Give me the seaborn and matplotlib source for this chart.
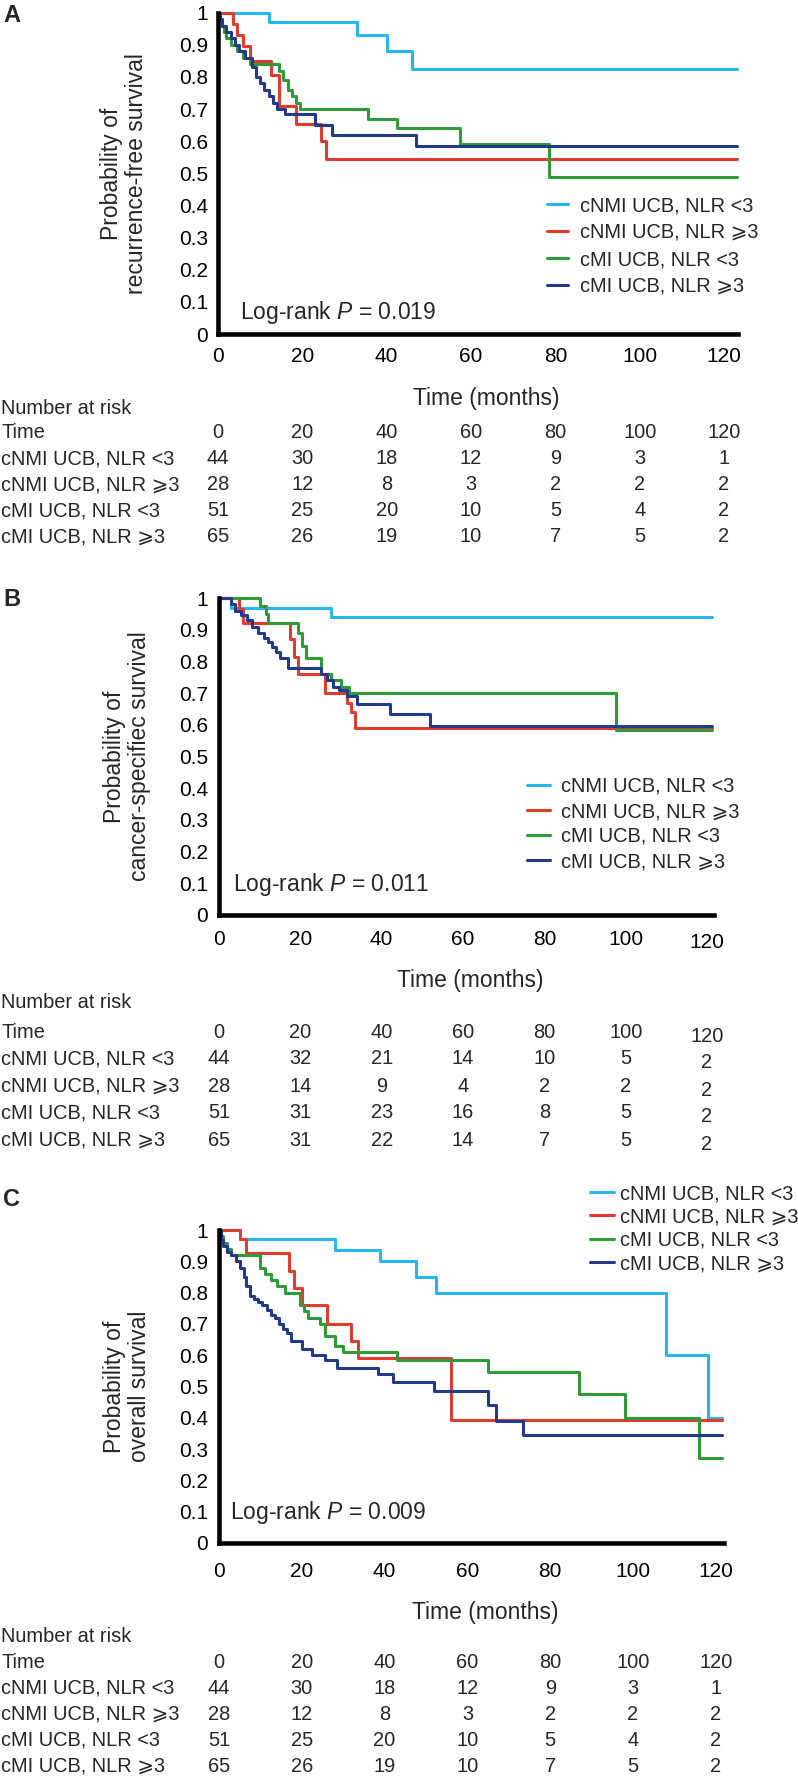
import matplotlib
matplotlib.use('Agg')
import matplotlib.pyplot as plt
import matplotlib.transforms as mtransforms
import pandas as pd
import seaborn as sns

sns.set_style('white')
plt.rcParams['font.family'] = ['Liberation Sans', 'DejaVu Sans']
plt.rcParams['mathtext.fontset'] = 'custom'
plt.rcParams['mathtext.it'] = 'Liberation Sans:italic'
plt.rcParams['mathtext.rm'] = 'Liberation Sans'

groups = ['cNMI UCB, NLR <3', 'cNMI UCB, NLR \u2a7e3', 'cMI UCB, NLR <3', 'cMI UCB, NLR \u2a7e3']
colors = ['#2bb5ee', '#e03b2e', '#2e9b38', '#223a8a']
times = [0, 20, 40, 60, 80, 100, 120]
yticks = [0, 0.1, 0.2, 0.3, 0.4, 0.5, 0.6, 0.7, 0.8, 0.9, 1]
ytick_labels = ['0', '0.1', '0.2', '0.3', '0.4', '0.5', '0.6', '0.7', '0.8', '0.9', '1']

# A: recurrence-free survival
a_cyan_t = [0, 12, 33, 40, 46, 123]
a_cyan_s = [1, 0.97, 0.93, 0.88, 0.826, 0.826]
a_red_t = [0, 3.5, 4.5, 6, 7.5, 12.5, 14.5, 18.5, 24.5, 25.5, 123]
a_red_s = [1, 0.965, 0.93, 0.895, 0.85, 0.805, 0.71, 0.655, 0.60, 0.545, 0.545]
a_green_t = [0, 0.5, 1, 1.5, 2, 3, 4.5, 6, 7.5, 14.5, 15.5, 16.5, 17.5, 18.5, 19.5, 35.5, 42.5, 57.5, 78.5, 123]
a_green_s = [1, 0.98, 0.96, 0.94, 0.92, 0.90, 0.88, 0.86, 0.84, 0.82, 0.79, 0.76, 0.74, 0.72, 0.70, 0.67, 0.64, 0.59, 0.49, 0.49]
a_blue_t = [0, 0.5, 1, 2, 3, 4, 5, 6.5, 8, 9, 10, 11, 12, 13, 14, 16, 23, 27, 47, 123]
a_blue_s = [1, 0.98, 0.96, 0.94, 0.92, 0.90, 0.88, 0.86, 0.83, 0.80, 0.78, 0.76, 0.74, 0.72, 0.70, 0.685, 0.65, 0.62, 0.585, 0.585]

# B: cancer-specific survival
b_cyan_t = [0, 3, 27.5, 121.3]
b_cyan_s = [1, 0.97, 0.94, 0.94]
b_red_t = [0, 5, 6, 17.5, 18.5, 19.5, 26, 31.5, 32.5, 33.5, 121.3]
b_red_s = [1, 0.965, 0.92, 0.87, 0.815, 0.76, 0.70, 0.67, 0.64, 0.59, 0.59]
b_green_t = [0, 10, 11.5, 12, 19.5, 20.5, 21.5, 25, 27.5, 30, 32, 97.5, 121.3]
b_green_s = [1, 0.975, 0.95, 0.92, 0.89, 0.85, 0.81, 0.76, 0.74, 0.72, 0.70, 0.585, 0.585]
b_blue_t = [0, 3, 4, 5.5, 7, 8, 9.5, 11, 12, 13, 14, 15, 17, 25, 26.5, 28, 29.5, 31.5, 34, 42, 52, 121.3]
b_blue_s = [1, 0.98, 0.96, 0.945, 0.93, 0.91, 0.89, 0.875, 0.86, 0.845, 0.83, 0.81, 0.78, 0.76, 0.74, 0.72, 0.71, 0.69, 0.665, 0.635, 0.595, 0.595]

# C: overall survival
c_cyan_t = [0, 5, 28, 39, 47.5, 52.5, 108, 118, 121.5]
c_cyan_s = [1, 0.97, 0.935, 0.90, 0.85, 0.80, 0.60, 0.40, 0.40]
c_red_t = [0, 5, 6.5, 17, 18, 20, 26, 32, 33.5, 56, 121.5]
c_red_s = [1, 0.97, 0.925, 0.87, 0.815, 0.76, 0.70, 0.645, 0.59, 0.393, 0.393]
c_green_t = [0, 0.5, 1, 2, 3, 10, 11, 12.5, 14, 16, 19.5, 20.5, 21.5, 24.5, 25.5, 28, 30, 43, 65, 87, 98, 116, 121.5]
c_green_s = [1, 0.98, 0.96, 0.94, 0.92, 0.88, 0.86, 0.84, 0.82, 0.80, 0.76, 0.74, 0.72, 0.70, 0.66, 0.63, 0.61, 0.585, 0.545, 0.475, 0.40, 0.27, 0.27]
c_blue_t = [0, 0.5, 1, 2, 3, 4, 5, 6, 6.5, 7.5, 8.5, 9.5, 10.5, 11.5, 12.5, 13.5, 14.5, 15.5, 16.5, 17.5, 20, 22.5, 25.5, 28.5, 38.5, 42, 52, 65, 67, 73.5, 121.5]
c_blue_s = [1, 0.97, 0.95, 0.93, 0.92, 0.90, 0.88, 0.85, 0.82, 0.79, 0.78, 0.77, 0.76, 0.745, 0.73, 0.72, 0.70, 0.685, 0.67, 0.645, 0.62, 0.60, 0.585, 0.56, 0.54, 0.515, 0.485, 0.44, 0.39, 0.345, 0.345]

# numbers at risk
a_risk = [[44, 30, 18, 12, 9, 3, 1], [28, 12, 8, 3, 2, 2, 2], [51, 25, 20, 10, 5, 4, 2], [65, 26, 19, 10, 7, 5, 2]]
b_risk = [[44, 32, 21, 14, 10, 5, 2], [28, 14, 9, 4, 2, 2, 2], [51, 31, 23, 16, 8, 5, 2], [65, 31, 22, 14, 7, 5, 2]]
c_risk = [[44, 30, 18, 12, 9, 3, 1], [28, 12, 8, 3, 2, 2, 2], [51, 25, 20, 10, 5, 4, 2], [65, 26, 19, 10, 7, 5, 2]]

W, H = 798, 1778
fig = plt.figure(figsize=(W / 100, H / 100), dpi=100)


def fy(py):
    return 1 - py / H


def draw_panel(letter, curves, risk, ylabel, ptext, lay):
    left, top, bottom, k, xmax = lay['left'], lay['top'], lay['bottom'], lay['k'], lay['xmax']
    width = k * xmax
    ax = fig.add_axes([left / W, fy(bottom), width / W, (bottom - top) / H])

    rows = []
    for g, (t, s) in zip(groups, curves):
        for ti, si in zip(t, s):
            rows.append({'time': ti, 'surv': si, 'group': g})
    df = pd.DataFrame(rows)
    sns.lineplot(data=df, x='time', y='surv', hue='group', hue_order=groups, palette=colors,
                 estimator=None, drawstyle='steps-post', linewidth=2.2, legend=False, ax=ax)
    for ln in ax.lines:
        ln.set_clip_on(False)

    ax.set_xlim(0, xmax)
    ax.set_ylim(0, 1)
    ax.set_xticks(times)
    ax.set_yticks(yticks, ytick_labels)
    ax.tick_params(length=0, labelsize=15, colors='black')
    ax.tick_params(axis='x', pad=lay['xpad'])
    ax.tick_params(axis='y', pad=lay['ypad'])
    for side in ['top', 'right']:
        ax.spines[side].set_visible(False)
    for side in ['left', 'bottom']:
        ax.spines[side].set_linewidth(3.3)
        ax.spines[side].set_color('black')
        ax.spines[side].set_capstyle('projecting')

    # the last x tick label sits a bit lower in some panels
    drop = lay.get('drop120', 0)
    if drop:
        lbl = ax.xaxis.get_major_ticks()[-1].label1
        lbl.set_transform(lbl.get_transform() + mtransforms.ScaledTranslation(0, -drop / 100, fig.dpi_scale_trans))

    ax.set_ylabel(ylabel, fontsize=16.5, linespacing=1.1)
    ax.yaxis.label.set_verticalalignment('center')
    ax.yaxis.set_label_coords((lay['ylab_x'] - left) / width, 0.5)
    ax.set_xlabel('Time (months)', fontsize=16.5)
    ax.xaxis.label.set_verticalalignment('center')
    ax.xaxis.set_label_coords((lay['xlab'][0] - left) / width, -(lay['xlab'][1] - bottom) / (bottom - top))

    lx, ly = lay['leg']
    ax.legend(ax.lines[:4], groups, loc='upper left', bbox_to_anchor=(lx / W, fy(ly)),
              bbox_transform=fig.transFigure, frameon=False, borderpad=0, borderaxespad=0,
              fontsize=14.4, handlelength=lay['hl'], handletextpad=lay['htp'], labelspacing=lay['ls'])

    px, py = lay['pval']
    ax.text((px - left) / k, (bottom - py) / (bottom - top), ptext, fontsize=16.5,
            va='center', ha='left', transform=mtransforms.blended_transform_factory(ax.transData, ax.transAxes))

    fig.text(3 / W, fy(lay['letter']), letter, fontsize=17, fontweight='bold', va='center', ha='left')

    # number at risk table
    tr = mtransforms.blended_transform_factory(ax.transData, fig.transFigure)
    fig.text(1 / W, fy(lay['nar']), 'Number at risk', fontsize=14.4, va='center', ha='left')
    row_y = lay['rows']
    fig.text(1 / W, fy(row_y[0]), 'Time', fontsize=14.4, va='center', ha='left')
    for t in times:
        dy = drop + 1 if (t == times[-1] and drop) else 0
        ax.text(t, fy(row_y[0] + dy), str(t), transform=tr, fontsize=14.4, ha='center', va='center')
    for g, counts, y in zip(groups, risk, row_y[1:]):
        fig.text(1 / W, fy(y), g, fontsize=14.4, va='center', ha='left')
        for t, n in zip(times, counts):
            dy = drop + 1 if (t == times[-1] and drop) else 0
            ax.text(t, fy(y + dy), str(n), transform=tr, fontsize=14.4, ha='center', va='center')
    return ax


draw_panel('A', [(a_cyan_t, a_cyan_s), (a_red_t, a_red_s), (a_green_t, a_green_s), (a_blue_t, a_blue_s)],
           a_risk, 'Probability of\nrecurrence-free survival', 'Log-rank $P$ = 0.019',
           dict(left=218, top=12.7, bottom=334, k=4.217, xmax=123.3, xpad=9, ypad=7,
                ylab_x=124, xlab=(486, 398), leg=(547, 196), hl=1.05, htp=0.6, ls=0.4,
                pval=(240, 313), letter=15, nar=408, rows=[433, 459, 485, 511, 537]))

draw_panel('B', [(b_cyan_t, b_cyan_s), (b_red_t, b_red_s), (b_green_t, b_green_s), (b_blue_t, b_blue_s)],
           b_risk, 'Probability of\ncancer-specifiec survival', 'Log-rank $P$ = 0.011',
           dict(left=219, top=598, bottom=915, k=4.067, xmax=121.7, xpad=11, ypad=8,
                ylab_x=127, xlab=(470, 980), leg=(527, 777), hl=1.15, htp=0.55, ls=0.3,
                pval=(233, 885), letter=599, nar=1003, rows=[1033, 1059, 1086, 1113, 1140],
                drop120=3))

draw_panel('C', [(c_cyan_t, c_cyan_s), (c_red_t, c_red_s), (c_green_t, c_green_s), (c_blue_t, c_blue_s)],
           c_risk, 'Probability of\noverall survival', 'Log-rank $P$ = 0.009',
           dict(left=219, top=1230, bottom=1543, k=4.14, xmax=122, xpad=13.4, ypad=8,
                ylab_x=127, xlab=(485, 1612), leg=(590, 1184), hl=1.2, htp=0.3, ls=0.22,
                pval=(230, 1513), letter=1200, nar=1637, rows=[1662, 1688, 1714, 1740, 1766]))

fig.savefig('out.png', dpi=100)
